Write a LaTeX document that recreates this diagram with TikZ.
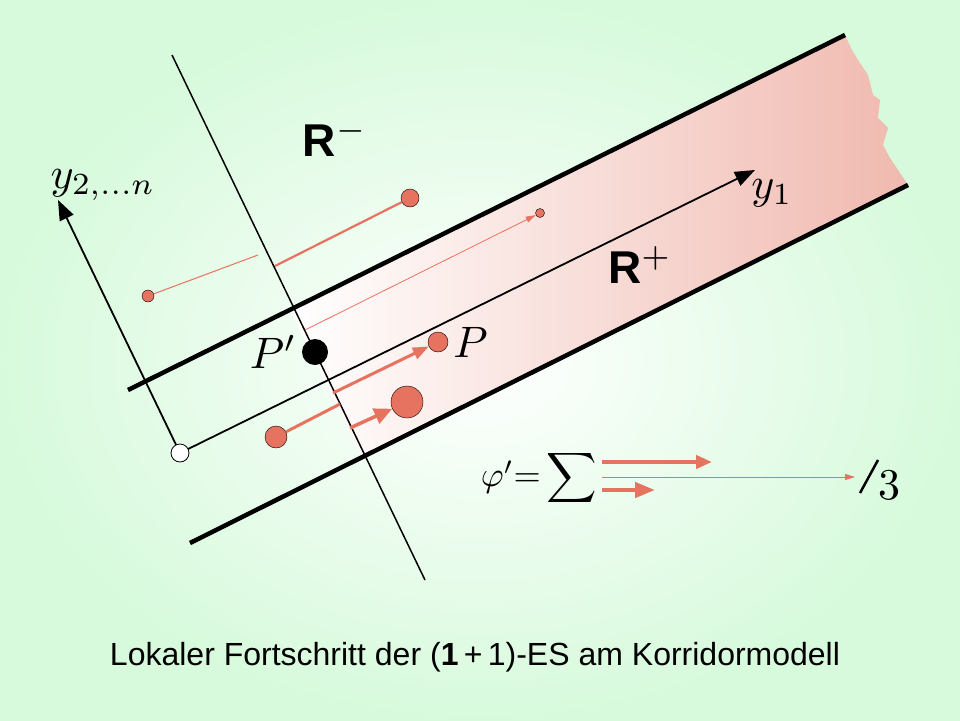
\documentclass[tikz,border=0pt]{standalone}
\usepackage{fontspec}
\setsansfont{Liberation Sans}
\usetikzlibrary{arrows.meta}
\definecolor{dotred}{RGB}{230,115,95}
\definecolor{bggreen}{RGB}{215,250,220}
\definecolor{corpink}{RGB}{240,185,175}
\tikzset{
  dot/.style={circle,draw=black,fill=dotred,inner sep=0pt},
  move/.style={draw=dotred,-{Triangle[length=10pt,width=8pt]}},
  axis/.style={line width=1.8pt,-{Triangle[length=20pt,width=15pt]}},
  edge/.style={line width=4.5pt},
  lbl/.style={font=\sffamily\bfseries,scale=4.6},
  big/.style={scale=4.4}
}
\begin{document}
\begin{tikzpicture}[x=1pt,y=-1pt]
        \shade[inner color=white,outer color=bggreen] (0,0) rectangle (960,720);
        \useasboundingbox (0,0) rectangle (960,720);

        % corridor
        \shade[left color=white,right color=corpink] (290,310) -- (845,35) -- (852,50) -- (858,60) -- (868,75) -- (873,95) -- (880,100) -- (878,118) -- (888,128) -- (883,145) -- (890,158) -- (898,170) -- (908,185) -- (362,457) -- cycle;
        \draw[edge] (128,390) -- (845,35);
        \draw[edge] (190,543) -- (908,185);
        \draw[line width=1.5pt] (172,55) -- (425,580);

        % axes
        \coordinate (O) at (180,453);
        \draw[axis] (O) -- (755,170);
        \draw[axis] (O) -- (58,200);
        \node[circle,draw=black,thick,fill=white,inner sep=0pt,minimum size=18pt] (o) at (O) {};
        \node[big] (yn) at (103,185) {$y_{2,\ldots n}$};
        \node[big] (y1) at (772,193) {$y_1$};
        \node[lbl] (rminus) at (335,138) {R$^{-}$};
        \node[lbl] (rplus) at (640,265) {R$^{+}$};

        % points
        \node[dot,minimum size=12pt] (a) at (148,296) {};
        \node[dot,minimum size=18pt] (b) at (410,198) {};
        \draw[dotred,line width=1pt] (a) -- (258,255);
        \draw[dotred,line width=2.2pt] (275,266) -- (b);
        \node[dot,minimum size=9pt] (c) at (540,213) {};
        \draw[move,line width=0.8pt,-{Triangle[length=10pt,width=6pt]}] (305,330) -- (c);
        \node[circle,fill=black,inner sep=0pt,minimum size=26pt] (pp) at (315,352) {};
        \node[big,anchor=east,inner sep=1pt] at (pp.west) {$P'$};
        \node[dot,minimum size=20pt] (p) at (438,342) {};
        \node[big,anchor=west,inner sep=1pt] at (p.east) {$P$};
        \draw[move,line width=3pt,-{Triangle[length=16pt,width=12pt]}] (333,393) -- (p);
        \node[dot,minimum size=22pt] (d) at (276,437) {};
        \node[dot,minimum size=32pt] (e) at (407,402) {};
        \draw[dotred,line width=3pt] (d) -- (340,404);
        \draw[move,line width=3.5pt,-{Triangle[length=18pt,width=16pt]}] (350,428) -- (e);

        % formula
        \node[scale=3.5,anchor=east,inner sep=0pt] (phi) at (598,478) {$\varphi'{=}\displaystyle\sum$};
        \draw[move,line width=4pt,-{Triangle[length=16pt,width=13pt]}] (602,462) -- (712,462);
        \draw[move,line width=1pt,-{Triangle[length=10pt,width=6pt]}] (602,477) -- (855,477);
        \draw[move,line width=4.5pt,-{Triangle[length=20pt,width=15pt]}] (602,490) -- (655,490);
        \draw[line width=2.5pt] (860,493) -- (878,460);
        \node[big] (three) at (889,485) {$3$};

        \node[font=\sffamily,scale=3.2] (cap) at (475,657) {Lokaler Fortschritt der (\textbf{1}\,+\,1)-ES am Korridormodell};
\end{tikzpicture}
\end{document}
